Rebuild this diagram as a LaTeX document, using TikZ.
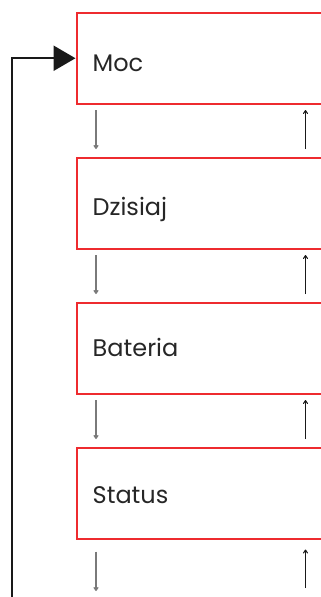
\documentclass[tikz,border=0pt]{standalone}
\usepackage{fontspec}
\setmainfont{Poppins}
\usetikzlibrary{arrows.meta,calc}
\definecolor{boxred}{HTML}{EE2B2F}
\definecolor{dngray}{HTML}{7A7A7A}
\begin{document}
\begin{tikzpicture}[x=1pt,y=-1pt,
  menubox/.style={draw=boxred,line width=2pt,rectangle,minimum width=280pt,minimum height=90.5pt,anchor=north west,inner sep=0pt},
  menutext/.style={anchor=base west,inner sep=0pt,font=\fontsize{24}{28}\selectfont,text=black!85},
  dnarrow/.style={draw=dngray,line width=1.2pt,-{To[length=4pt,width=5pt]}},
  uparrow/.style={draw=black!90,line width=1pt,-{To[length=4pt,width=5pt]}},
  loopline/.style={draw=black!90,line width=2.4pt,-{Triangle[length=22pt,width=25pt]}}]
\useasboundingbox (0,0) rectangle (321,597);
\clip (0,0) rectangle (321,597);
\node[menubox] (b1) at (75.5,12) {};
\node[menubox] (b2) at (75.5,157) {};
\node[menubox] (b3) at (75.5,302) {};
\node[menubox] (b4) at (75.5,447) {};
\node[menutext] (t1) at (92.5,71) {Moc};
\node[menutext] (t2) at (92.5,215) {Dzisiaj};
\node[menutext] (t3) at (92.5,356) {Bateria};
\node[menutext] (t4) at (92.5,503) {Status};
\foreach \a/\b in {b1/b2,b2/b3,b3/b4}{
  \draw[dnarrow] ($(\a.south west)+(20.5,5.5)$) -- ($(\b.north west)+(20.5,-8)$);
  \draw[uparrow] ($(\b.north west)+(230,-8)$) -- ($(\a.south west)+(230,5.5)$);
}
\coordinate (d5) at (96,591);
\coordinate (u5) at (305.5,588);
\draw[dnarrow] ($(b4.south west)+(20.5,12)$) -- (d5);
\draw[uparrow] (u5) -- ($(b4.south west)+(230,10)$);
\coordinate (loopstart) at (12,597);
\draw[loopline] (loopstart) |- (b1.west);
\end{tikzpicture}
\end{document}
